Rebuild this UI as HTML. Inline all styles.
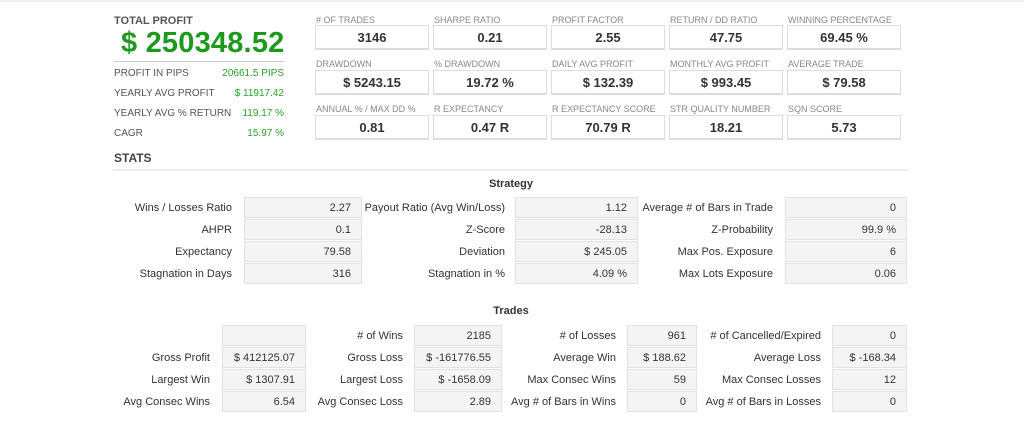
<!DOCTYPE html>
<html><head><meta charset="utf-8"><style>
*{margin:0;padding:0;box-sizing:border-box}
body{width:1024px;height:429px;background:#fff;font-family:"Liberation Sans",Arial,sans-serif;color:#333;position:relative;overflow:hidden}
.a{position:absolute;white-space:nowrap}
.tl{font-size:9px;color:#888;text-transform:uppercase}
.tb{position:absolute;width:114px;height:25px;border:1px solid #ddd;border-bottom:2px solid #ddd;background:#fff;font-weight:bold;font-size:13px;text-align:center;line-height:24px;color:#333}
.lb{position:absolute;font-size:11px;color:#333;text-align:right;line-height:21px;height:21px;margin-top:1px}
.bx{position:absolute;height:21px;background:#f4f4f4;border:1px solid #e2e2e2;font-size:11px;text-align:right;line-height:20px;padding-right:10px;color:#333}
.ll{font-size:10px;color:#555}
.gv{font-size:10px;color:#2aa32a;text-align:right}
</style></head><body>
<div class="a" style="left:0;top:0;width:1024px;height:2px;background:#f0f0f0"></div>

<div class="a" style="left:114px;top:15px;font-size:11px;font-weight:bold;color:#555">TOTAL PROFIT</div>
<div class="a" style="left:121px;top:27px;font-size:29px;font-weight:bold;color:#1d9a1d;letter-spacing:0.2px">$ 250348.52</div>
<div class="a" style="left:114px;top:61px;width:171px;height:1px;background:#ccc"></div>
<div class="a ll" style="left:114px;top:68px">PROFIT IN PIPS</div><div class="a gv" style="left:185px;width:99px;top:68px">20661.5 PIPS</div>
<div class="a ll" style="left:114px;top:88px">YEARLY AVG PROFIT</div><div class="a gv" style="left:185px;width:99px;top:88px">$ 11917.42</div>
<div class="a ll" style="left:114px;top:108px">YEARLY AVG % RETURN</div><div class="a gv" style="left:205px;width:79px;top:108px">119.17 %</div>
<div class="a ll" style="left:114px;top:128px">CAGR</div><div class="a gv" style="left:185px;width:99px;top:128px">15.97 %</div>
<div class="a" style="left:114px;top:151px;font-size:12px;font-weight:bold;color:#444">STATS</div>
<div class="a" style="left:113px;top:169px;width:796px;height:2px;background:#eee"></div>

<div class="a tl" style="left:316px;top:15px">#&nbsp;OF TRADES</div><div class="tb" style="left:315px;top:25px">3146</div>
<div class="a tl" style="left:434px;top:15px">SHARPE RATIO</div><div class="tb" style="left:433px;top:25px">0.21</div>
<div class="a tl" style="left:552px;top:15px">PROFIT FACTOR</div><div class="tb" style="left:551px;top:25px">2.55</div>
<div class="a tl" style="left:670px;top:15px">RETURN / DD RATIO</div><div class="tb" style="left:669px;top:25px">47.75</div>
<div class="a tl" style="left:788px;top:15px">WINNING PERCENTAGE</div><div class="tb" style="left:787px;top:25px">69.45 %</div>

<div class="a tl" style="left:316px;top:59px">DRAWDOWN</div><div class="tb" style="left:315px;top:70px">$ 5243.15</div>
<div class="a tl" style="left:434px;top:59px">% DRAWDOWN</div><div class="tb" style="left:433px;top:70px">19.72 %</div>
<div class="a tl" style="left:552px;top:59px">DAILY AVG PROFIT</div><div class="tb" style="left:551px;top:70px">$ 132.39</div>
<div class="a tl" style="left:670px;top:59px">MONTHLY AVG PROFIT</div><div class="tb" style="left:669px;top:70px">$ 993.45</div>
<div class="a tl" style="left:788px;top:59px">AVERAGE TRADE</div><div class="tb" style="left:787px;top:70px">$ 79.58</div>

<div class="a tl" style="left:316px;top:104px">ANNUAL % / MAX DD %</div><div class="tb" style="left:315px;top:115px">0.81</div>
<div class="a tl" style="left:434px;top:104px">R EXPECTANCY</div><div class="tb" style="left:433px;top:115px">0.47 R</div>
<div class="a tl" style="left:552px;top:104px">R EXPECTANCY SCORE</div><div class="tb" style="left:551px;top:115px">70.79 R</div>
<div class="a tl" style="left:670px;top:104px">STR QUALITY NUMBER</div><div class="tb" style="left:669px;top:115px">18.21</div>
<div class="a tl" style="left:788px;top:104px">SQN SCORE</div><div class="tb" style="left:787px;top:115px">5.73</div>

<div class="a" style="left:411px;width:200px;text-align:center;top:178px;font-size:11px;font-weight:bold">Strategy</div>

<div class="lb" style="left:0;width:232px;top:197px">Wins / Losses Ratio</div><div class="bx" style="left:244px;width:118px;top:197px">2.27</div>
<div class="lb" style="left:300px;width:205px;top:197px">Payout Ratio (Avg Win/Loss)</div><div class="bx" style="left:515px;width:123px;top:197px">1.12</div>
<div class="lb" style="left:500px;width:273px;top:197px">Average # of Bars in Trade</div><div class="bx" style="left:785px;width:122px;top:197px">0</div>

<div class="lb" style="left:0;width:232px;top:219px">AHPR</div><div class="bx" style="left:244px;width:118px;top:219px">0.1</div>
<div class="lb" style="left:300px;width:205px;top:219px">Z-Score</div><div class="bx" style="left:515px;width:123px;top:219px">-28.13</div>
<div class="lb" style="left:500px;width:273px;top:219px">Z-Probability</div><div class="bx" style="left:785px;width:122px;top:219px">99.9 %</div>

<div class="lb" style="left:0;width:232px;top:241px">Expectancy</div><div class="bx" style="left:244px;width:118px;top:241px">79.58</div>
<div class="lb" style="left:300px;width:205px;top:241px">Deviation</div><div class="bx" style="left:515px;width:123px;top:241px">$ 245.05</div>
<div class="lb" style="left:500px;width:273px;top:241px">Max Pos. Exposure</div><div class="bx" style="left:785px;width:122px;top:241px">6</div>

<div class="lb" style="left:0;width:232px;top:263px">Stagnation in Days</div><div class="bx" style="left:244px;width:118px;top:263px">316</div>
<div class="lb" style="left:300px;width:205px;top:263px">Stagnation in %</div><div class="bx" style="left:515px;width:123px;top:263px">4.09 %</div>
<div class="lb" style="left:500px;width:273px;top:263px">Max Lots Exposure</div><div class="bx" style="left:785px;width:122px;top:263px">0.06</div>

<div class="a" style="left:411px;width:200px;text-align:center;top:305px;font-size:11px;font-weight:bold">Trades</div>

<div class="bx" style="left:222px;width:84px;top:325px"></div>
<div class="lb" style="left:300px;width:103px;top:325px"># of Wins</div><div class="bx" style="left:414px;width:88px;top:325px">2185</div>
<div class="lb" style="left:500px;width:116px;top:325px"># of Losses</div><div class="bx" style="left:627px;width:70px;top:325px">961</div>
<div class="lb" style="left:700px;width:121px;top:325px"># of Cancelled/Expired</div><div class="bx" style="left:832px;width:75px;top:325px">0</div>

<div class="lb" style="left:0;width:210px;top:347px">Gross Profit</div><div class="bx" style="left:222px;width:84px;top:347px">$ 412125.07</div>
<div class="lb" style="left:300px;width:103px;top:347px">Gross Loss</div><div class="bx" style="left:414px;width:88px;top:347px">$ -161776.55</div>
<div class="lb" style="left:500px;width:116px;top:347px">Average Win</div><div class="bx" style="left:627px;width:70px;top:347px">$ 188.62</div>
<div class="lb" style="left:700px;width:121px;top:347px">Average Loss</div><div class="bx" style="left:832px;width:75px;top:347px">$ -168.34</div>

<div class="lb" style="left:0;width:210px;top:369px">Largest Win</div><div class="bx" style="left:222px;width:84px;top:369px">$ 1307.91</div>
<div class="lb" style="left:300px;width:103px;top:369px">Largest Loss</div><div class="bx" style="left:414px;width:88px;top:369px">$ -1658.09</div>
<div class="lb" style="left:500px;width:116px;top:369px">Max Consec Wins</div><div class="bx" style="left:627px;width:70px;top:369px">59</div>
<div class="lb" style="left:700px;width:121px;top:369px">Max Consec Losses</div><div class="bx" style="left:832px;width:75px;top:369px">12</div>

<div class="lb" style="left:0;width:210px;top:391px">Avg Consec Wins</div><div class="bx" style="left:222px;width:84px;top:391px">6.54</div>
<div class="lb" style="left:300px;width:103px;top:391px">Avg Consec Loss</div><div class="bx" style="left:414px;width:88px;top:391px">2.89</div>
<div class="lb" style="left:500px;width:116px;top:391px">Avg # of Bars in Wins</div><div class="bx" style="left:627px;width:70px;top:391px">0</div>
<div class="lb" style="left:700px;width:121px;top:391px">Avg # of Bars in Losses</div><div class="bx" style="left:832px;width:75px;top:391px">0</div>
</body></html>
